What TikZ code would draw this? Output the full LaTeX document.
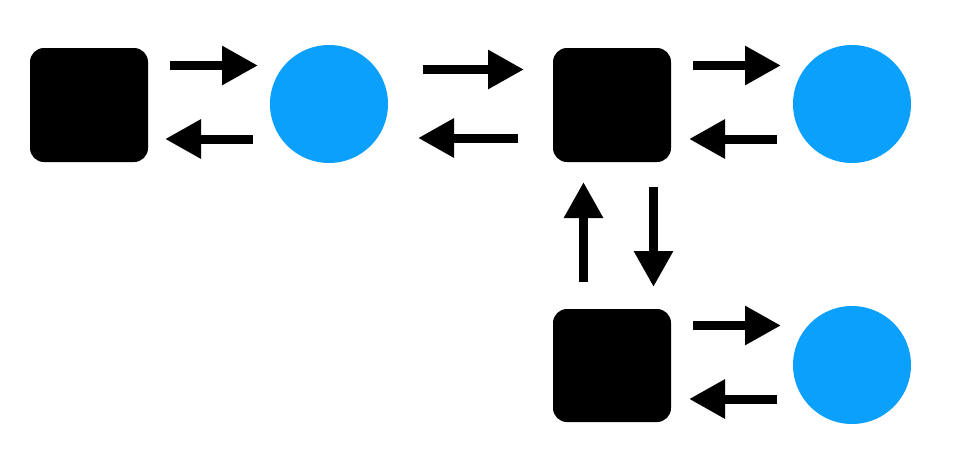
\documentclass[tikz,border=0pt]{standalone}
\usetikzlibrary{arrows.meta}
\definecolor{cblue}{HTML}{0CA0FD}
\begin{document}
\begin{tikzpicture}[x=1pt,y=-1pt,
  sq/.style={fill=black,rounded corners=14pt},
  ci/.style={circle,fill=cblue,minimum size=118pt,inner sep=0pt},
  arr/.style={line width=9pt,-{Triangle[length=36pt,width=37pt]}}]
\useasboundingbox (0,0) rectangle (961,453);
\fill[sq] (30,48) rectangle (148,162);
\fill[sq] (553,48) rectangle (671,162);
\fill[sq] (553,309) rectangle (671,422);
\node[ci] (c1) at (329,104) {};
\node[ci] (c2) at (852,104) {};
\node[ci] (c3) at (852,365) {};
\coordinate (a1s) at (170,65.5); \coordinate (a1e) at (258,65.5);
\coordinate (b1s) at (253,139); \coordinate (b1e) at (165,139);
\coordinate (a2s) at (423,69.5); \coordinate (a2e) at (524,69.5);
\coordinate (b2s) at (518,138); \coordinate (b2e) at (418,138);
\coordinate (a3s) at (693,65.5); \coordinate (a3e) at (781,65.5);
\coordinate (b3s) at (777,139); \coordinate (b3e) at (689,139);
\coordinate (a4s) at (693,325.5); \coordinate (a4e) at (781,325.5);
\coordinate (b4s) at (777,399); \coordinate (b4e) at (689,399);
\coordinate (us) at (583.5,282); \coordinate (ue) at (583.5,182);
\coordinate (ds) at (653.5,187); \coordinate (de) at (653.5,287);
\draw[arr] (a1s) -- (a1e);
\draw[arr] (b1s) -- (b1e);
\draw[arr] (a2s) -- (a2e);
\draw[arr] (b2s) -- (b2e);
\draw[arr] (a3s) -- (a3e);
\draw[arr] (b3s) -- (b3e);
\draw[arr] (a4s) -- (a4e);
\draw[arr] (b4s) -- (b4e);
\draw[arr] (us) -- (ue);
\draw[arr] (ds) -- (de);
\end{tikzpicture}
\end{document}
